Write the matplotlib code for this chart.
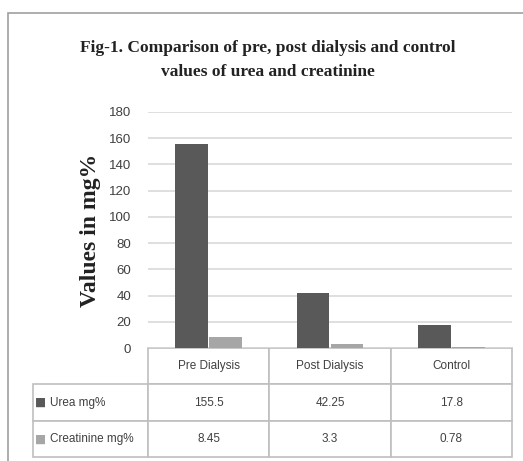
"""Bar chart of urea and creatinine (pre / post dialysis, control) with a data table below."""
import matplotlib
matplotlib.use("Agg")
import matplotlib.pyplot as plt
from matplotlib.patches import Rectangle

plt.rcParams.update({
    "font.family": ["Liberation Sans Narrow", "Liberation Sans", "DejaVu Sans"],
    "font.size": 9,
})

# --- data -----------------------------------------------------------------
categories = ["Pre Dialysis", "Post Dialysis", "Control"]
series_names = ["Urea mg%", "Creatinine mg%"]
urea = [155.5, 42.25, 17.8]
creatinine = [8.45, 3.3, 0.78]
urea_text = ["155.5", "42.25", "17.8"]
creat_text = ["8.45", "3.3", "0.78"]
y_ticks = list(range(0, 181, 20))

C_UREA = "#595959"
C_CREAT = "#a6a6a6"
C_GRID = "#d9d9d9"
C_EDGE = "#bfbfbf"
C_TEXT = "#404040"

W, H = 523, 461
fig = plt.figure(figsize=(W / 100, H / 100), dpi=100)
fig.patch.set_facecolor("white")

# outer chart frame (cropped at the right and bottom in the original)
fig.patches.append(Rectangle((8 / W, -0.1), 1.2, (H - 13) / H + 0.1,
                             transform=fig.transFigure, fill=False,
                             edgecolor="#a0a0a0", lw=1.2))

# plot area in pixels
px_l, px_r, px_t, px_b = 148, 512, 112, 348
ax = fig.add_axes([px_l / W, (H - px_b) / H, (px_r - px_l) / W, (px_b - px_t) / H])

x = range(len(categories))
bw = 0.27
ax.bar([i - bw / 2 - 0.005 for i in x], urea, width=bw, color=C_UREA, zorder=3)
ax.bar([i + bw / 2 + 0.005 for i in x], creatinine, width=bw, color=C_CREAT, zorder=3)

ax.set_xlim(-0.5, len(categories) - 0.5)
ax.set_ylim(0, 180)
ax.set_yticks(y_ticks)
ax.tick_params(axis="y", length=0, pad=12, labelsize=9.5, labelcolor=C_TEXT)
ax.set_xticks([])
ax.yaxis.grid(True, color=C_GRID, lw=1.2, zorder=0)
for s in ax.spines.values():
    s.set_visible(False)

ax.set_ylabel("Values in mg%", family="Liberation Serif", weight="bold",
              fontsize=17, color="#222222", labelpad=6)

# --- data table -----------------------------------------------------------
tab_l, tab_b = 33, 457
bx0 = (tab_l - px_l) / (px_r - px_l)
by0 = -(tab_b - px_b) / (px_b - px_t)
bbox = [bx0, by0, 1 - bx0, -by0]
cell_text = [[""] + categories,
             [series_names[0]] + urea_text,
             [series_names[1]] + creat_text]
label_w = (px_l - tab_l) / (px_r - tab_l)
data_w = (1 - label_w) / 3
tbl = ax.table(cellText=cell_text, cellLoc="center", bbox=bbox,
               colWidths=[label_w, data_w, data_w, data_w])
tbl.auto_set_font_size(False)
tbl.set_fontsize(8.5)
for (r, c), cell in tbl.get_celld().items():
    cell.set_edgecolor(C_EDGE)
    cell.set_linewidth(1.2)
    cell.get_text().set_color(C_TEXT)
    if c == 0:
        cell.get_text().set_ha("left")
        cell.PAD = 0.15
tbl[0, 0].visible_edges = ""

# legend keys in the row-label cells
row_h = -by0 / 3
for k, col in enumerate([C_UREA, C_CREAT]):
    yc = -row_h * (k + 1.5)
    ax.text(bx0 + 0.006, yc, "■", color=col, fontsize=8.5,
            family="DejaVu Sans", ha="left", va="center",
            transform=ax.transAxes, clip_on=False)

# --- title ----------------------------------------------------------------
fig.text(268 / W, 1 - 60 / H,
         "Fig-1. Comparison of pre, post dialysis and control\nvalues of urea and creatinine",
         ha="center", va="center", family="Liberation Serif", weight="bold",
         fontsize=12.5, color="#222222", linespacing=1.65)

fig.savefig("out.png", dpi=100, facecolor="white")
